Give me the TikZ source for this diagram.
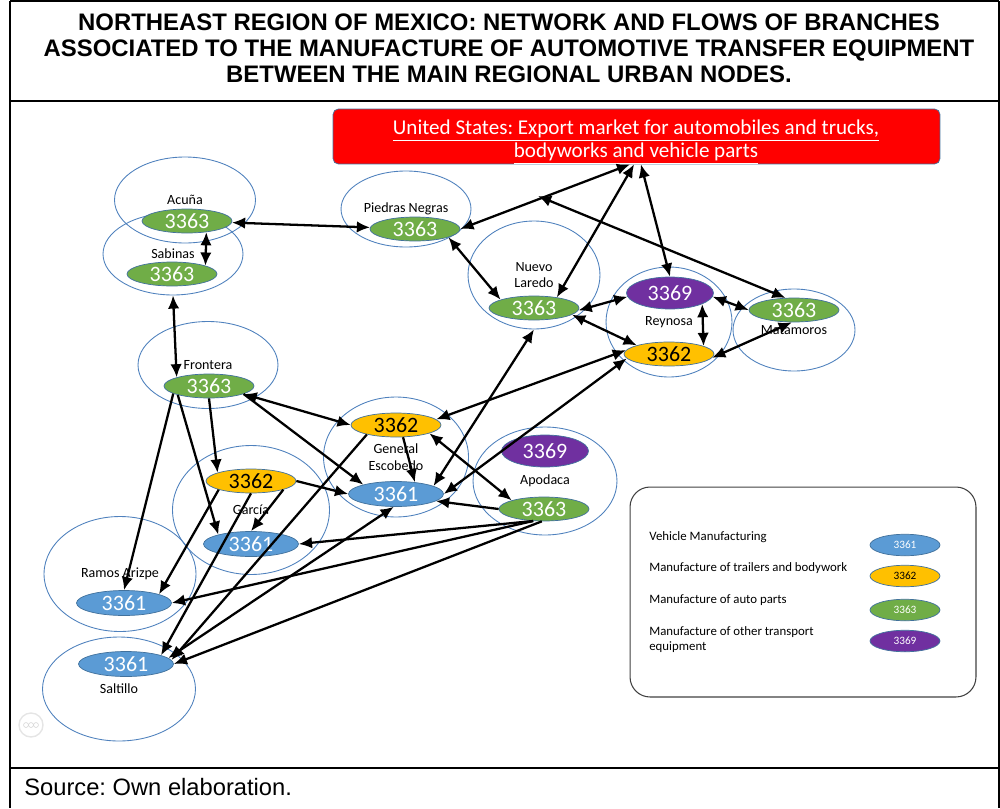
\documentclass[tikz,border=0pt]{standalone}
\usepackage{fontspec}
\setmainfont{Carlito}
\newfontfamily\arialfont{Liberation Sans}
\usepackage{xcolor}
\usepackage{tikz}
\usetikzlibrary{shapes.geometric,arrows.meta,positioning}
\frenchspacing

\definecolor{codeblue}{HTML}{5B9BD5}
\definecolor{codeyellow}{HTML}{FFC000}
\definecolor{codegreen}{HTML}{70AD47}
\definecolor{codepurple}{HTML}{7030A0}
\definecolor{cityline}{HTML}{4F81BD}
\definecolor{codeline}{HTML}{41719C}

\tikzset{
    city/.style={ellipse, draw=cityline, line width=0.5pt, inner sep=0pt, align=center,
        font=\fontsize{8}{9.6}\selectfont},
    code/.style={ellipse, draw=codeline, line width=0.4pt, inner sep=0pt,
        minimum width=1.8cm, minimum height=0.48cm, font=\fontsize{12.5}{13}\selectfont},
    c61/.style={code, fill=codeblue, text=white, minimum width=1.9cm, minimum height=0.5cm},
    c62/.style={code, fill=codeyellow, text=black},
    c63/.style={code, fill=codegreen, text=white},
    c69/.style={code, fill=codepurple, text=white, minimum width=1.74cm, minimum height=0.64cm},
    legcode/.style={minimum width=1.4cm, minimum height=0.43cm, font=\fontsize{6.4}{7}\selectfont},
    legtext/.style={anchor=west, inner sep=0pt, align=left, font=\fontsize{7.3}{8.5}\selectfont},
    flow/.style={line width=1.3pt, -{Latex[length=7.5pt,width=6.5pt]}},
    bothflow/.style={line width=1.3pt, {Latex[length=7.5pt,width=6.5pt]}-{Latex[length=7.5pt,width=6.5pt]}},
}

\begin{document}
\begin{tikzpicture}[x=0.02cm, y=-0.02cm]
    \useasboundingbox (0,0) rectangle (1000,808);

    % table frame
    \draw [line width=1.4pt] (10,1) -- (999,1) (10,101) -- (999,101) (10,768) -- (999,768)
        (10,1) -- (10,808) (999,1) -- (999,808);
    \node [align=center, font=\arialfont\bfseries\fontsize{13.6}{14.8}\selectfont] (title) at (509,48)
        {NORTHEAST REGION OF MEXICO: NETWORK AND FLOWS OF BRANCHES\\
         ASSOCIATED TO THE MANUFACTURE OF AUTOMOTIVE TRANSFER EQUIPMENT\\
         BETWEEN THE MAIN REGIONAL URBAN NODES.};
    \node [anchor=west, inner sep=0pt, font=\arialfont\fontsize{13.5}{15}\selectfont] (source) at (24,787)
        {Source: Own elaboration.};

    % faint slide icon
    \node [circle, draw=black!10, line width=0.8pt, minimum size=0.48cm, inner sep=0pt] (more) at (31,725) {};
    \foreach \dx in {-5,0,5} {
        \draw [black!18, line width=0.3pt] (31+\dx,725) circle (1.4pt);
    }

    % urban nodes
    \node [city, minimum width=2.82cm, minimum height=1.72cm] (acuna) at (185,200) {Acuña};
    \node [city, minimum width=2.80cm, minimum height=1.64cm] (sabinas) at (173,254) {Sabinas};
    \node [city, minimum width=2.60cm, minimum height=1.52cm] (piedras) at (406,209) {Piedras Negras};
    \node [city, minimum width=2.64cm, minimum height=2.16cm] (nlaredo) at (534,275) {Nuevo\\Laredo};
    \node [city, minimum width=2.52cm, minimum height=2.20cm] (reynosa) at (669,322) {Reynosa};
    \node [city, minimum width=2.44cm, minimum height=1.64cm] (matamoros) at (794,330) {Matamoros};
    \node [city, minimum width=2.80cm, minimum height=1.74cm] (frontera) at (208,365) {Frontera};
    \node [city, minimum width=2.90cm, minimum height=2.40cm] (escobedo) at (396,457) {General\\Escobedo};
    \node [city, minimum width=3.14cm, minimum height=2.58cm] (garcia) at (251,510) {García};
    \node [city, minimum width=2.88cm, minimum height=2.16cm] (apodaca) at (545,481) {Apodaca};
    \node [city, minimum width=3.04cm, minimum height=2.30cm] (ramos) at (120,574) {Ramos Arizpe};
    \node [city, minimum width=3.06cm, minimum height=2.08cm] (saltillo) at (119,689) {Saltillo};

    % branches
    \node [c63] (acuna63) at (187,221) {3363};
    \node [c63] (sabinas63) at (172,274) {3363};
    \node [c63] (piedras63) at (415,229) {3363};
    \node [c63] (nlaredo63) at (534,308) {3363};
    \node [c69] (reynosa69) at (670,293) {3369};
    \node [c62] (reynosa62) at (669,354) {3362};
    \node [c63] (matamoros63) at (794,310) {3363};
    \node [c63] (frontera63) at (209,386) {3363};
    \node [c62] (escobedo62) at (396,425) {3362};
    \node [c61] (escobedo61) at (396,494) {3361};
    \node [c62] (garcia62) at (251,481) {3362};
    \node [c61] (garcia61) at (251,544) {3361};
    \node [c69] (apodaca69) at (545,451) {3369};
    \node [c63] (apodaca63) at (544,509) {3363};
    \node [c61] (ramos61) at (124,603) {3361};
    \node [c61] (saltillo61) at (126,664) {3361};

    % export market
    \node [draw=codeline, line width=0.4pt, fill=red, rounded corners=3pt,
        minimum width=12.14cm, minimum height=1.1cm] (usa) at (636.5,136.5) {};
    \node [text=white, align=center, font=\fontsize{12}{13}\selectfont] (usatext) at (636,142)
        {\underline{United States: Export market for automobiles and trucks,}\\
         \underline{bodyworks and vehicle parts}};
    \coordinate (gulf) at (538,196);

    % legend
    \node [draw=black!75, line width=0.6pt, rounded corners=0.4cm, minimum width=6.92cm,
        minimum height=4.2cm] (legend) at (803,592) {};
    \foreach \ty/\ey/\code/\txt in {537/545/61/{Vehicle Manufacturing},
            568/576/62/{Manufacture of trailers and bodywork},
            600/610/63/{Manufacture of auto parts},
            639.5/641/69/{Manufacture of other transport\\equipment}} {
        \node [legtext] (leg\code) at (649,\ty) {\txt};
        \node [c\code, legcode] (legkey\code) at (905,\ey) {33\code};
    }

    % flows both ways
    \foreach \a/\b in {acuna63/piedras63, acuna63.-30/sabinas63.14, sabinas.south/frontera63.165,
            usa.-103/piedras63.east, usa.-95/nlaredo63.25, usa.-81/reynosa69.north,
            gulf/matamoros63.125, piedras63.-14/nlaredo63.166, nlaredo63.-3/reynosa69.185,
            nlaredo63.-10/reynosa62.165, reynosa69.-19/reynosa62.13, reynosa69.-5/matamoros63.west,
            reynosa62.-5/matamoros63.-100, escobedo61.12/nlaredo.south, reynosa62.175/escobedo62.8,
            reynosa62.186/escobedo61.east, frontera63.-13/escobedo62.west,
            escobedo62.-14/apodaca63.165, escobedo61.-100/saltillo61.8} {
        \draw [bothflow] (\a) -- (\b);
    }

    % flows one way
    \foreach \a/\b in {frontera63.-13/escobedo61.164, frontera63.south/garcia62.166,
            frontera63.196/garcia61.164, frontera63.192/ramos61.north,
            garcia62.east/escobedo61.west, escobedo62.-60/escobedo61.32,
            apodaca63.west/escobedo61.-10, apodaca63.-132/garcia61.east,
            apodaca63.-132/ramos61.east, apodaca63.-100/saltillo61.east,
            garcia62.195/ramos61.14, garcia62.south/saltillo61.14,
            garcia62.-15/garcia61.north, escobedo62.198/saltillo61.5} {
        \draw [flow] (\a) -- (\b);
    }
\end{tikzpicture}
\end{document}
